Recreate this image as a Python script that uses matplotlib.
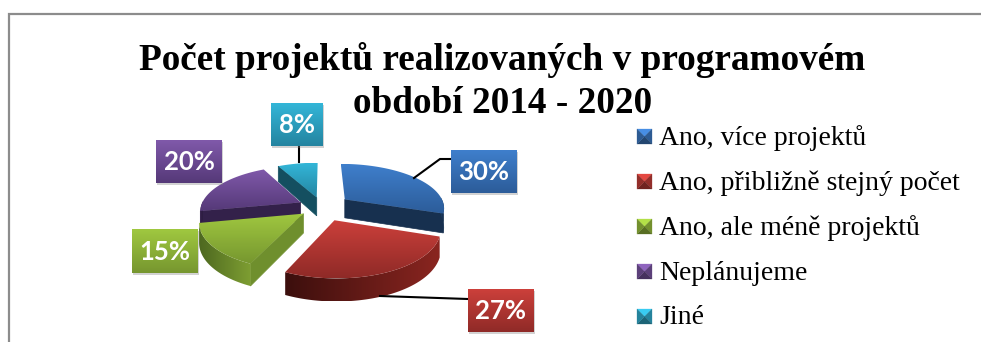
import numpy as np
import matplotlib
matplotlib.use("Agg")
import matplotlib.pyplot as plt
from matplotlib.colors import LinearSegmentedColormap, to_rgb
from matplotlib.patches import Polygon, Rectangle

# --- Data ---
TITLE_LINES = ["Počet projektů realizovaných v programovém", "období 2014 - 2020"]
CATEGORIES = ["Ano, více projektů", "Ano, přibližně stejný počet",
              "Ano, ale méně projektů", "Neplánujeme", "Jiné"]
VALUES = [30, 27, 15, 20, 8]

# --- Style ---
TOP_COLORS = [("#3f7fcc", "#2c5c99"), ("#cc403b", "#8f2a27"), ("#a0c840", "#76962f"),
              ("#8059aa", "#553978"), ("#33b6d8", "#2484a0")]
ARC_COLORS = [("#1c3a5e", "#142c48"), ("#8a2520", "#3c0f0d"), ("#7e9e32", "#4d6820"),
              ("#35224c", "#2c1c40"), ("#155262", "#104250")]
FACE_COLORS = ["#17304f", "#6e1c19", "#6f8f2d", "#33214a", "#144f60"]
EXPLODE = [0.29, 0.30, 0.23, 0.24, 0.22]
LABEL_BOXES = [(451, 150, 66, 43), (468, 289, 66, 43), (132, 229, 66, 44),
               (156, 140, 66, 43), (271, 103, 52, 43)]
LEADERS = [[(414, 178), (440, 159), (451, 159)], [(380, 296), (468, 299)],
           [], [], [(299, 146), (299, 162)]]
CX, CY = 322, 207
RX, RY, PERSP, DEPTH = 100, 46, 0.17, 19


def project(px, py, down=0.0):
    """Tilted pie plane to picture pixels, front is drawn larger"""
    f = 1 - PERSP * py
    return CX + px * RX * f, CY - py * RY * f + down * f


def gradient_fill(ax, verts, colors, axis="y", zorder=2):
    """Polygon filled with a two colour gradient"""
    verts = np.array(verts)
    x0, y0 = verts.min(axis=0)
    x1, y1 = verts.max(axis=0)
    cmap = LinearSegmentedColormap.from_list("g", colors)
    grad = np.linspace(0, 1, 128).reshape(-1, 1) if axis == "y" else np.linspace(0, 1, 128).reshape(1, -1)
    im = ax.imshow(grad, extent=(x0, x1, y1, y0), cmap=cmap, aspect="auto",
                   origin="upper", zorder=zorder, interpolation="bilinear")
    clip = Polygon(verts, closed=True, transform=ax.transData, fc="none", ec="none")
    ax.add_patch(clip)
    im.set_clip_path(clip)


def draw_slice(ax, start, end, i, zorder):
    """One exploded slice: cut faces, outer wall, top"""
    mid = (start + end) / 2
    ex, ey = EXPLODE[i] * np.sin(mid), EXPLODE[i] * np.cos(mid)
    theta = np.linspace(start, end, 80)
    px, py = ex + np.sin(theta), ey + np.cos(theta)
    top = np.array([project(a, b) for a, b in zip(px, py)])
    low = np.array([project(a, b, DEPTH) for a, b in zip(px, py)])
    apex_top = project(ex, ey)
    apex_low = project(ex, ey, DEPTH)

    # cut faces, only those turned to the viewer
    if np.sin(start) < -1e-6:
        face = [apex_top, top[0], low[0], apex_low]
        ax.add_patch(Polygon(face, closed=True, fc=FACE_COLORS[i], ec=FACE_COLORS[i], lw=0.5, zorder=zorder))
    if np.sin(end) > 1e-6:
        face = [apex_top, top[-1], low[-1], apex_low]
        ax.add_patch(Polygon(face, closed=True, fc=FACE_COLORS[i], ec=FACE_COLORS[i], lw=0.5, zorder=zorder))

    # outer wall only where it faces the viewer
    front = np.cos(theta) < 0.05
    if front.any():
        wall = np.vstack([top[front], low[front][::-1]])
        colors = ARC_COLORS[i]
        gradient_fill(ax, wall, colors if top[front][0, 0] < top[front][-1, 0] else colors[::-1],
                      axis="x", zorder=zorder + 0.1)

    gradient_fill(ax, np.vstack([[apex_top], top]), TOP_COLORS[i], zorder=zorder + 0.2)


def shade(color, k):
    """Lighter (k>1) or darker (k<1) version of a colour"""
    return tuple(min(1, c * k) for c in to_rgb(color))


def draw_swatch(ax, x, y, size, i):
    """Small bevelled legend square: bright top, dark bottom"""
    base = TOP_COLORS[i][0]
    mid = (x + size / 2, y + size / 2)
    tl, tr, br, bl = (x, y), (x + size, y), (x + size, y + size), (x, y + size)
    sides = [((tl, tr), shade(base, 1.12)), ((tr, br), shade(base, 0.72)),
             ((br, bl), shade(base, 0.55)), ((bl, tl), shade(base, 0.72))]
    for (a, b), col in sides:
        ax.add_patch(Polygon([a, b, mid], closed=True, fc=col, ec=col, lw=0.2, zorder=3))


fig = plt.figure(figsize=(9.81, 3.42), dpi=100)
ax = fig.add_axes([0, 0, 1, 1])
ax.set_axis_off()

# slices, back ones first
edges = np.cumsum([0] + VALUES) / sum(VALUES) * 2 * np.pi
for z, i in enumerate([4, 3, 0, 2, 1]):
    draw_slice(ax, edges[i], edges[i + 1], i, 2 + z)

# leader lines and value labels
for i, val in enumerate(VALUES):
    if LEADERS[i]:
        xs, ys = zip(*LEADERS[i])
        ax.plot(xs, ys, color="black", lw=1.5, zorder=9, solid_joinstyle="miter")
    x, y, w, h = LABEL_BOXES[i]
    ax.add_patch(Rectangle((x + 1, y + 2), w, h, fc="#808080", alpha=0.35, ec="none", zorder=9))
    box = [(x, y), (x + w, y), (x + w, y + h), (x, y + h)]
    gradient_fill(ax, box, TOP_COLORS[i], zorder=10)
    ax.text(x + w / 2, y + h / 2 + 0.5, f"{val}%", color="white", ha="center", va="center",
            fontsize=18.5, family="Lato", fontweight="bold", zorder=11)

# legend
for i, name in enumerate(CATEGORIES):
    row = 137 + 45 * i
    draw_swatch(ax, 637, row - 8, 15, i)
    ax.text(659, row + 1, name, ha="left", va="center", family="Liberation Serif",
            fontsize=20, color="black", zorder=11)

# title, one text per line so the second line keeps its own position
ax.text(502, 70, TITLE_LINES[0], ha="center", va="baseline", family="Liberation Serif",
        fontweight="bold", fontsize=26.8, color="black", zorder=8)
ax.text(503, 113, TITLE_LINES[1], ha="center", va="baseline", family="Liberation Serif",
        fontweight="bold", fontsize=26.8, color="black", zorder=8)

# chart frame, open at the right and bottom
ax.plot([9, 9, 981], [342, 14, 14], color="#8c8c8c", lw=1.6, zorder=1, solid_joinstyle="miter")

ax.set_xlim(0, 981)
ax.set_ylim(342, 0)
fig.savefig("out.png", dpi=100)
